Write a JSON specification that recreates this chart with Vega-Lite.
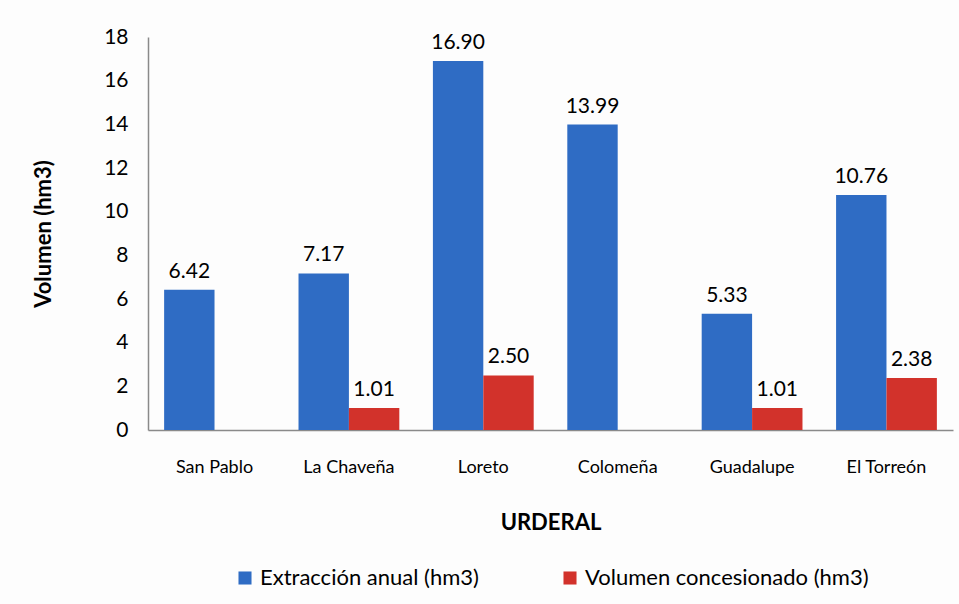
{
  "$schema": "https://vega.github.io/schema/vega-lite/v6.json",
  "width": 805,
  "height": 393,
  "autosize": {"type": "none"},
  "padding": {"left": 148, "top": 37, "right": 6, "bottom": 174},
  "background": "#fdfdfd",
  "config": {
    "font": "Lato",
    "view": {"stroke": null}
  },
  "data": {
    "values": [
      {"urderal": "San Pablo", "serie": "Extracción anual (hm3)", "valor": 6.42, "etiqueta": "6.42"},
      {"urderal": "San Pablo", "serie": "Volumen concesionado (hm3)", "valor": 0, "etiqueta": ""},
      {"urderal": "La Chaveña", "serie": "Extracción anual (hm3)", "valor": 7.17, "etiqueta": "7.17"},
      {"urderal": "La Chaveña", "serie": "Volumen concesionado (hm3)", "valor": 1.01, "etiqueta": "1.01"},
      {"urderal": "Loreto", "serie": "Extracción anual (hm3)", "valor": 16.90, "etiqueta": "16.90"},
      {"urderal": "Loreto", "serie": "Volumen concesionado (hm3)", "valor": 2.50, "etiqueta": "2.50"},
      {"urderal": "Colomeña", "serie": "Extracción anual (hm3)", "valor": 13.99, "etiqueta": "13.99"},
      {"urderal": "Colomeña", "serie": "Volumen concesionado (hm3)", "valor": 0, "etiqueta": ""},
      {"urderal": "Guadalupe", "serie": "Extracción anual (hm3)", "valor": 5.33, "etiqueta": "5.33"},
      {"urderal": "Guadalupe", "serie": "Volumen concesionado (hm3)", "valor": 1.01, "etiqueta": "1.01"},
      {"urderal": "El Torreón", "serie": "Extracción anual (hm3)", "valor": 10.76, "etiqueta": "10.76"},
      {"urderal": "El Torreón", "serie": "Volumen concesionado (hm3)", "valor": 2.38, "etiqueta": "2.38"}
    ]
  },
  "encoding": {
    "x": {
      "field": "urderal",
      "type": "nominal",
      "sort": null,
      "scale": {"paddingInner": 0.25, "paddingOuter": 0.12},
      "axis": {
        "title": "URDERAL",
        "titleFontSize": 22,
        "titleFontWeight": "bold",
        "titleColor": "#000",
        "titlePadding": 36,
        "labelAngle": 0,
        "labelFontSize": 18,
        "labelColor": "#000",
        "labelPadding": 28,
        "ticks": false,
        "domainColor": "#8a8a8a",
        "domainWidth": 1.5
      }
    },
    "xOffset": {"field": "serie", "type": "nominal", "sort": null},
    "y": {
      "field": "valor",
      "type": "quantitative",
      "scale": {"domain": [0, 18], "nice": false},
      "axis": {
        "title": "Volumen (hm3)",
        "titleFontSize": 22,
        "titleFontWeight": "bold",
        "titleColor": "#000",
        "titlePadding": 48,
        "values": [0, 2, 4, 6, 8, 10, 12, 14, 16, 18],
        "labelFontSize": 21,
        "labelColor": "#000",
        "labelPadding": 20,
        "ticks": false,
        "grid": false,
        "domainColor": "#8a8a8a",
        "domainWidth": 1.5
      }
    }
  },
  "layer": [
    {
      "mark": {"type": "bar"},
      "encoding": {
        "color": {
          "field": "serie",
          "type": "nominal",
          "sort": null,
          "scale": {
            "domain": ["Extracción anual (hm3)", "Volumen concesionado (hm3)"],
            "range": ["#2f6cc4", "#d2322b"]
          },
          "legend": {
            "title": null,
            "orient": "none",
            "legendX": 86,
            "legendY": 530,
            "direction": "horizontal",
            "columns": 2,
            "columnPadding": 80,
            "symbolType": "square",
            "symbolSize": 170,
            "symbolOffset": 0,
            "labelFontSize": 22,
            "labelLimit": 0,
            "labelColor": "#000",
            "labelOffset": 4
          }
        }
      }
    },
    {
      "mark": {"type": "text", "baseline": "bottom", "dy": -8, "fontSize": 21, "color": "#000"},
      "encoding": {
        "text": {"field": "etiqueta"}
      }
    }
  ]
}
